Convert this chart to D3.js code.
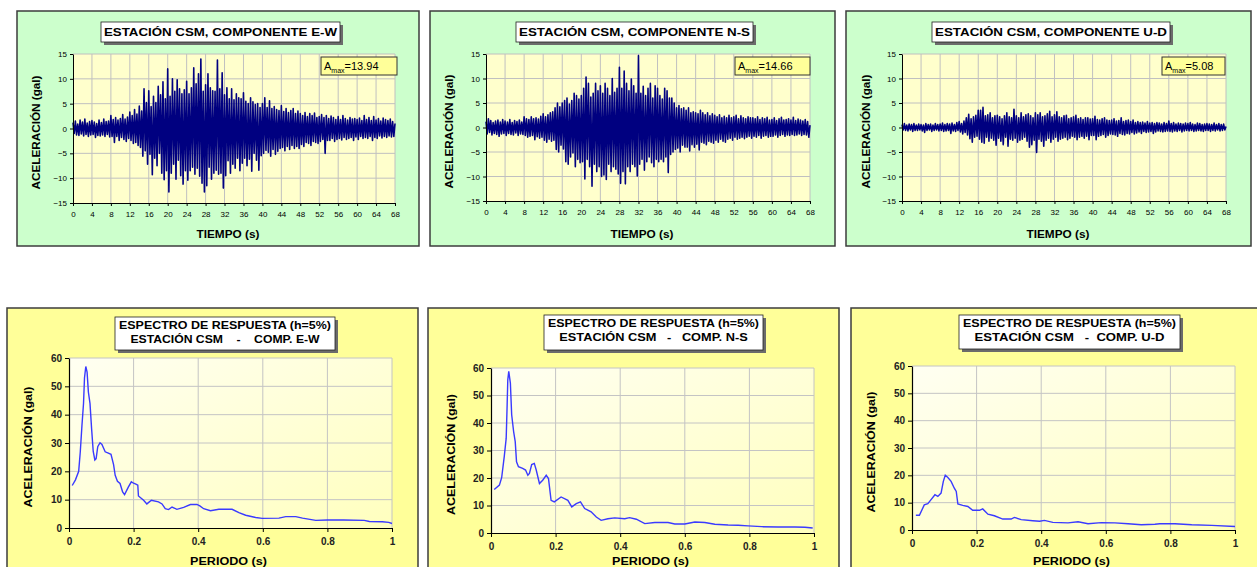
<!DOCTYPE html>
<html><head><meta charset="utf-8">
<script src="https://cdn.jsdelivr.net/npm/d3@7"></script>
<style>
html,body{margin:0;padding:0;background:#fff;}
svg{display:block;}
text{font-family:"Liberation Sans",Arial,sans-serif;}
</style></head>
<body>
<svg id="c" width="1257" height="567"></svg>
<script>
// ---------- DATA ----------
const accelStep = 0.25; // s between samples
const timeTicks = [0,4,8,12,16,20,24,28,32,36,40,44,48,52,56,60,64,68];
const accelTicks = [-15,-10,-5,0,5,10,15];
const periodTicks = [0,0.2,0.4,0.6,0.8,1];
const saTicks = [0,10,20,30,40,50,60];
const amaxValues = ["13.94","14.66","5.08"];
const accelTitles = ["ESTACIÓN CSM, COMPONENTE E-W","ESTACIÓN CSM, COMPONENTE N-S","ESTACIÓN CSM, COMPONENTE U-D"];
const specTitle1 = "ESPECTRO DE RESPUESTA (h=5%)";
const specTitles2 = ["ESTACIÓN CSM    -    COMP. E-W","ESTACIÓN CSM   -   COMP. N-S","ESTACIÓN CSM   -  COMP. U-D"];

const ewAccel = [
1.2,-1.0,1.5,-1.3,0.9,-1.4,1.7,-1.1,1.3,-1.5,1.9,-1.2,1.1,-1.6,1.4,-1.3,
1.6,-1.2,1.3,-1.8,1.0,-1.4,1.7,-1.5,1.2,-1.3,1.9,-1.6,1.4,-1.2,1.5,-1.7,
2.6,-1.6,1.8,-2.8,2.2,-1.6,1.7,-2.4,2.0,-1.8,2.8,-2.2,1.9,-2.6,2.3,-2.0,
3.3,-2.4,2.6,-3.0,3.8,-2.8,2.9,-3.4,4.5,-3.8,3.5,-5.6,8.0,-4.5,5.2,-7.2,
7.6,-5.2,4.4,-9.3,6.5,-6.0,5.2,-7.5,8.5,-5.0,6.8,-9.0,9.4,-10.3,6.0,-8.5,
12.0,-12.8,6.5,-9.0,10.0,-7.2,7.5,-10.2,9.8,-6.4,8.0,-9.5,7.0,-11.2,7.8,-8.5,
9.5,-10.4,7.0,-8.5,8.2,-7.8,12.2,-9.2,9.0,-8.0,11.0,-9.6,14.0,-11.0,7.5,-12.8,
8.8,-11.5,11.0,-7.8,8.2,-10.2,7.6,-9.0,7.5,-8.4,13.8,-9.2,8.0,-9.0,11.2,-12.0,
6.8,-9.5,8.2,-6.5,6.0,-9.0,8.0,-7.2,5.8,-8.0,7.0,-6.0,6.2,-8.5,6.0,-7.0,
7.2,-6.0,5.5,-7.5,5.0,-6.2,6.2,-8.6,5.4,-5.0,4.8,-6.4,5.0,-8.4,4.2,-5.5,
5.0,-5.0,6.2,-4.4,4.2,-4.8,5.6,-5.6,4.0,-4.2,4.4,-5.2,3.8,-4.6,3.6,-4.0,
4.6,-3.8,3.4,-4.5,4.0,-3.6,3.2,-4.2,3.6,-3.4,4.0,-4.0,3.0,-3.6,3.5,-4.0,
3.0,-3.2,2.6,-3.6,3.2,-2.8,2.4,-3.0,3.0,-3.4,2.6,-2.6,3.1,-2.8,2.2,-3.0,
2.4,-2.6,2.8,-2.2,2.2,-5.0,2.6,-2.4,2.0,-2.4,2.5,-2.0,2.2,-2.6,1.8,-2.2,
2.4,-2.0,1.8,-2.3,2.6,-1.8,2.0,-2.2,1.7,-2.0,2.2,-1.8,1.9,-2.4,2.0,-1.7,
1.8,-2.2,2.1,-1.6,1.6,-2.0,2.6,-1.8,1.8,-2.0,2.2,-1.6,1.6,-2.4,2.4,-1.8,
1.7,-2.0,2.0,-1.5,1.5,-1.9,2.1,-1.6,1.8,-1.8,1.6,-1.5,1.9,-1.7,1.4,-1.6,
1.0];

const nsAccel = [
1.2,-1.3,1.8,-1.0,1.4,-1.5,1.0,-1.2,1.3,-1.4,1.5,-1.8,1.1,-1.3,1.6,-1.2,
1.3,-1.6,1.1,-1.2,1.6,-1.4,1.0,-1.5,1.4,-1.1,1.2,-1.6,1.5,-1.3,1.1,-1.4,
2.2,-1.6,1.8,-2.0,1.6,-1.8,2.2,-1.6,1.8,-2.5,2.0,-1.9,1.7,-2.2,2.3,-2.0,
2.8,-2.6,2.2,-3.0,2.6,-2.4,3.0,-2.8,3.2,-2.6,4.0,-4.5,5.0,-5.0,4.2,-3.6,
5.0,-4.4,5.5,-7.0,6.0,-7.5,4.8,-6.0,5.5,-5.2,7.0,-8.0,6.5,-6.5,5.8,-7.2,
6.5,-7.0,8.0,-10.5,10.3,-6.5,9.0,-8.0,6.2,-12.0,7.0,-7.5,9.0,-9.0,7.5,-8.0,
8.5,-10.0,7.0,-9.7,9.0,-10.6,8.0,-7.5,6.5,-9.0,10.0,-8.0,7.2,-8.5,8.0,-9.5,
12.3,-11.4,8.0,-9.0,11.5,-11.5,9.0,-8.0,7.5,-9.0,9.9,-7.5,8.5,-8.0,7.0,-9.9,
14.66,-7.5,7.0,-6.5,8.4,-8.7,6.5,-7.0,8.0,-6.0,9.0,-7.2,6.0,-8.0,8.5,-6.5,
8.0,-7.0,6.5,-6.5,5.8,-7.0,8.0,-6.0,7.5,-9.2,6.0,-5.5,6.0,-5.0,5.0,-4.5,
4.0,-4.2,4.5,-5.0,3.8,-3.6,4.0,-4.0,3.5,-4.0,4.0,-4.8,3.0,-3.5,3.2,-4.0,
3.0,-3.4,2.8,-4.6,3.5,-3.0,3.0,-3.2,2.6,-3.5,3.0,-2.8,2.4,-3.0,2.8,-3.2,
2.5,-2.6,2.2,-3.0,2.6,-2.4,2.0,-2.8,2.3,-3.0,2.0,-2.4,2.5,-2.2,2.0,-2.6,
2.2,-2.0,2.5,-2.4,1.8,-2.2,2.4,-2.0,2.0,-2.3,1.8,-2.0,2.2,-1.8,2.0,-2.2,
2.0,-1.8,1.8,-2.0,2.2,-1.6,1.6,-2.2,2.0,-1.8,1.8,-1.6,2.1,-2.0,1.5,-1.8,
1.6,-1.8,2.0,-1.5,1.4,-2.0,1.8,-1.6,2.1,-1.4,1.5,-1.8,1.6,-1.5,1.8,-1.6,
1.5,-1.4,2.1,-1.6,1.4,-1.5,1.7,-1.3,1.5,-1.6,1.3,-1.4,1.6,-1.5,1.2,-2.0,
0.5];

const udAccel = [
0.6,-0.5,0.8,-0.6,0.5,-0.7,0.7,-0.5,0.6,-0.8,0.8,-0.6,0.5,-0.6,0.7,-0.5,
0.6,-0.7,0.5,-1.0,0.8,-0.6,0.6,-0.5,0.7,-0.8,0.5,-0.6,0.8,-0.5,0.6,-0.7,
0.7,-0.6,0.9,-0.8,0.6,-0.7,0.8,-0.6,0.7,-1.2,0.9,-0.7,0.6,-0.8,1.0,-0.6,
1.2,-0.9,0.8,-1.3,1.3,-1.0,2.0,-1.5,2.7,-2.3,1.8,-3.0,2.2,-2.0,2.5,-1.8,
3.5,-2.4,3.5,-3.0,4.1,-3.2,2.4,-2.0,2.6,-2.8,3.0,-2.2,2.0,-2.6,2.4,-3.6,
2.5,-2.2,2.2,-2.8,1.8,-3.5,2.4,-2.0,3.0,-3.8,2.2,-2.4,2.0,-2.6,3.7,-2.2,
2.4,-3.0,2.0,-2.6,3.0,-2.4,2.2,-2.0,2.6,-2.8,2.8,-4.0,2.4,-3.5,2.0,-2.6,
3.0,-5.08,2.6,-2.4,3.0,-2.8,2.2,-3.8,2.4,-2.6,2.8,-2.2,3.3,-3.0,2.2,-2.4,
2.6,-2.0,3.2,-2.8,2.2,-2.4,2.0,-2.2,2.4,-2.0,2.5,-2.5,1.8,-2.2,2.0,-1.8,
2.2,-2.0,2.5,-2.5,1.8,-2.0,2.0,-1.8,1.6,-2.2,2.0,-1.8,2.0,-2.5,1.7,-1.6,
1.8,-1.6,2.3,-2.5,1.6,-1.8,1.5,-1.6,1.8,-1.4,2.0,-2.0,1.5,-1.6,1.4,-1.3,
1.5,-1.4,1.8,-1.5,1.3,-1.8,1.4,-1.2,2.0,-1.4,1.2,-1.5,1.4,-1.2,1.5,-1.3,
1.2,-1.0,1.5,-1.3,1.0,-1.1,1.2,-0.9,1.0,-1.2,1.1,-0.8,0.9,-1.0,1.2,-0.9,
0.9,-0.8,1.0,-1.2,0.8,-0.9,1.0,-0.7,0.9,-0.8,0.7,-0.9,1.0,-0.8,0.8,-0.7,
1.3,-0.8,0.8,-0.9,1.0,-0.7,0.7,-0.8,0.9,-0.6,0.8,-0.9,0.7,-0.7,0.9,-0.6,
0.8,-0.7,1.0,-0.6,0.7,-0.8,0.6,-0.7,0.9,-0.6,0.8,-0.7,0.6,-0.8,0.7,-0.6,
0.8,-0.6,0.7,-0.8,0.6,-0.6,0.9,-0.7,0.6,-0.5,0.8,-0.7,0.6,-0.6,0.7,-0.5,
0.2];

const ewPeriod = [0.01,0.02,0.03,0.035,0.04,0.045,0.048,0.052,0.056,0.06,0.065,0.07,0.075,0.08,0.084,0.089,0.096,0.102,0.112,0.12,0.13,0.138,0.143,0.15,0.158,0.166,0.172,0.184,0.193,0.2,0.207,0.213,0.215,0.231,0.241,0.255,0.277,0.288,0.298,0.308,0.319,0.334,0.355,0.376,0.396,0.405,0.417,0.438,0.464,0.505,0.526,0.547,0.578,0.598,0.65,0.671,0.702,0.723,0.764,0.8,0.85,0.914,0.93,0.97,0.99,1.0];
const ewSa =     [15,17,20,27,36,44,53,57,55,48,44,35,27,24,24.5,28.7,30.1,29.5,26.9,26.5,26,22.4,18.6,16.5,15.7,12.7,11.8,14.5,16.3,15.8,15.5,15.1,11.3,9.8,8.5,9.8,9.2,8.5,6.8,6.5,7.4,6.6,7.3,8.3,8.3,7.8,6.8,6.1,6.6,6.6,5.4,4.5,3.7,3.4,3.5,4,4,3.5,2.7,2.8,2.8,2.7,2.3,2.2,2.0,1.6];

const nsPeriod = [0.01,0.026,0.033,0.041,0.047,0.05,0.052,0.055,0.06,0.064,0.07,0.075,0.079,0.085,0.098,0.107,0.114,0.119,0.126,0.134,0.14,0.15,0.16,0.171,0.178,0.186,0.196,0.217,0.238,0.25,0.264,0.277,0.29,0.31,0.326,0.341,0.362,0.383,0.414,0.429,0.45,0.476,0.507,0.548,0.569,0.6,0.631,0.662,0.693,0.734,0.765,0.796,0.838,0.889,0.941,0.972,0.996];
const nsSa =     [15.8,17.4,20.1,27.8,34.4,46.6,55.7,58.8,54.5,43,36.9,33.2,25.9,24.1,23.5,22.9,21,21.7,24.9,25.3,22.9,18,19.2,21,19.8,11.9,11.3,13.1,11.9,9.5,10.7,11.3,8.9,7.7,5.8,4.6,5.2,5.5,5.2,5.6,5,3.4,3.8,3.8,3.3,3.3,4,3.8,3.2,2.9,2.8,2.6,2.3,2.2,2.2,2.1,1.8];

const udPeriod = [0.012,0.023,0.038,0.049,0.059,0.071,0.08,0.09,0.097,0.103,0.111,0.121,0.131,0.137,0.142,0.157,0.173,0.188,0.209,0.219,0.235,0.255,0.281,0.307,0.317,0.338,0.374,0.395,0.41,0.436,0.483,0.514,0.545,0.586,0.628,0.669,0.71,0.752,0.767,0.814,0.866,0.928,1.0];
const udSa =     [5.4,5.4,9.2,9.6,11.1,12.9,12.3,13.5,17.8,20,19.2,17.8,15.3,14.1,9.5,9,8.6,7.2,7.2,7.7,5.8,5.2,4,4,4.6,3.8,3.4,3.2,3.5,2.8,2.6,3,2.3,2.7,2.6,2.3,1.9,2.1,2.3,2.3,1.9,1.7,1.3];

// ---------- LAYOUT ----------
const svg = d3.select("#c");
const defs = svg.append("defs");
const grad = defs.append("linearGradient").attr("id","specBg")
  .attr("x1","0").attr("y1","0").attr("x2","1").attr("y2","1");
grad.append("stop").attr("offset","0").attr("stop-color","#fffff2");
grad.append("stop").attr("offset","1").attr("stop-color","#ffffbe");

const topPanels = [
  {box:[17,11,419,246], plot:[73,54,395,203], tbox:[101,22,340,42], amax:[321,57,397,75], ylx:36, data:ewAccel},
  {box:[430,11,835,246], plot:[486,54,810,201], tbox:[516,22,753,42], amax:[735,57,810,75], ylx:449, data:nsAccel},
  {box:[846,11,1251,246], plot:[902,54,1226,201], tbox:[932,22,1170,42], amax:[1162,57,1225,75], ylx:866, data:udAccel}
];
const botPanels = [
  {box:[7,308,418,590], plot:[69,358,392,528], tbox:[115,317,335,350], ylx:28, per:ewPeriod, sa:ewSa},
  {box:[428,308,839,590], plot:[491,368,814,533], tbox:[544,315,763,350], ylx:451, per:nsPeriod, sa:nsSa},
  {box:[851,308,1270,590], plot:[912,366,1235,530], tbox:[959,315,1180,349], ylx:871, per:udPeriod, sa:udSa}
];

function titleBox(g, b){
  g.append("rect").attr("x",b[0]+3).attr("y",b[1]+3).attr("width",b[2]-b[0]).attr("height",b[3]-b[1]).attr("fill","#6b6b6b");
  g.append("rect").attr("x",b[0]).attr("y",b[1]).attr("width",b[2]-b[0]).attr("height",b[3]-b[1]).attr("fill","#fff").attr("stroke","#222").attr("stroke-width",0.8);
}

// ---------- TOP: ACCELEROGRAMS ----------
topPanels.forEach((p,i)=>{
  const g = svg.append("g");
  g.append("rect").attr("x",p.box[0]).attr("y",p.box[1]).attr("width",p.box[2]-p.box[0]).attr("height",p.box[3]-p.box[1])
    .attr("fill","#ccffcc").attr("stroke","#3c3c3c").attr("stroke-width",1.5);
  const [x0,y0,x1,y1] = p.plot;
  const x = d3.scaleLinear().domain([0,68]).range([x0,x1]);
  const y = d3.scaleLinear().domain([-15,15]).range([y1,y0]);
  g.append("rect").attr("x",x0).attr("y",y0).attr("width",x1-x0).attr("height",y1-y0).attr("fill","#ffffcc");
  g.append("g").selectAll("line").data(timeTicks.slice(1)).join("line")
    .attr("x1",d=>x(d)).attr("x2",d=>x(d)).attr("y1",y0).attr("y2",y1).attr("stroke","#c0c0c0").attr("stroke-width",1);
  g.append("g").selectAll("line").data(accelTicks.slice(1)).join("line")
    .attr("y1",d=>y(d)).attr("y2",d=>y(d)).attr("x1",x0).attr("x2",x1).attr("stroke","#c0c0c0").attr("stroke-width",1);
  const line = d3.line().x((d,k)=>x(k*accelStep)).y(d=>y(d));
  g.append("path").datum(p.data).attr("d",line).attr("fill","none").attr("stroke","#000080")
    .attr("stroke-width",1.6).attr("stroke-linejoin","round");
  const ax = g.append("g").attr("transform",`translate(0,${y1})`)
    .call(d3.axisBottom(x).tickValues(timeTicks).tickSize(3).tickSizeOuter(0).tickPadding(5));
  const ay = g.append("g").attr("transform",`translate(${x0},0)`)
    .call(d3.axisLeft(y).tickValues(accelTicks).tickSize(3).tickSizeOuter(0).tickPadding(3));
  [ax,ay].forEach(a=>{
    a.select(".domain").attr("stroke","#000");
    a.selectAll(".tick line").attr("stroke","#000");
    a.selectAll("text").attr("font-size",8).attr("font-family","Liberation Sans, Arial").attr("fill","#000");
  });
  titleBox(g,p.tbox);
  g.append("text").attr("x",(p.tbox[0]+p.tbox[2])/2).attr("y",p.tbox[1]+13.5).attr("text-anchor","middle")
    .attr("font-family","DejaVu Sans, Verdana").attr("font-weight","bold").attr("font-size",11.5)
    .attr("textLength",p.tbox[2]-p.tbox[0]-6).attr("lengthAdjust","spacingAndGlyphs")
    .text(accelTitles[i]);
  const a = p.amax;
  g.append("rect").attr("x",a[0]).attr("y",a[1]).attr("width",a[2]-a[0]).attr("height",a[3]-a[1])
    .attr("fill","#ffff99").attr("stroke","#333").attr("stroke-width",1);
  const t = g.append("text").attr("x",a[0]+3).attr("y",a[1]+13).attr("font-size",11).attr("fill","#000");
  t.append("tspan").text("A");
  t.append("tspan").attr("font-size",7).attr("dy",3).text("max");
  t.append("tspan").attr("dy",-3).text("=" + amaxValues[i]);
  g.append("text").attr("transform",`translate(${p.ylx+4},${(y0+y1)/2+4}) rotate(-90)`).attr("text-anchor","middle")
    .attr("font-weight","bold").attr("font-size",10).attr("textLength",114).attr("lengthAdjust","spacingAndGlyphs")
    .text("ACELERACIÓN (gal)");
  g.append("text").attr("x",(x0+x1)/2-6).attr("y",238).attr("text-anchor","middle")
    .attr("font-weight","bold").attr("font-size",10).attr("textLength",63).attr("lengthAdjust","spacingAndGlyphs")
    .text("TIEMPO (s)");
});

// ---------- BOTTOM: SPECTRA ----------
botPanels.forEach((p,i)=>{
  const g = svg.append("g");
  g.append("rect").attr("x",p.box[0]).attr("y",p.box[1]).attr("width",p.box[2]-p.box[0]).attr("height",p.box[3]-p.box[1])
    .attr("fill","#ffff99").attr("stroke","#3c3c3c").attr("stroke-width",1.5);
  const [x0,y0,x1,y1] = p.plot;
  const x = d3.scaleLinear().domain([0,1]).range([x0,x1]);
  const y = d3.scaleLinear().domain([0,60]).range([y1,y0]);
  g.append("rect").attr("x",x0).attr("y",y0).attr("width",x1-x0).attr("height",y1-y0).attr("fill","url(#specBg)");
  g.append("g").selectAll("line").data(periodTicks.slice(1)).join("line")
    .attr("x1",d=>x(d)).attr("x2",d=>x(d)).attr("y1",y0).attr("y2",y1).attr("stroke","#c4c4c4").attr("stroke-width",1);
  g.append("g").selectAll("line").data(saTicks.slice(1)).join("line")
    .attr("y1",d=>y(d)).attr("y2",d=>y(d)).attr("x1",x0).attr("x2",x1).attr("stroke","#c4c4c4").attr("stroke-width",1);
  const line = d3.line().x((d,k)=>x(p.per[k])).y(d=>y(d));
  g.append("path").datum(p.sa).attr("d",line).attr("fill","none").attr("stroke","#3a3aff").attr("stroke-width",1.4);
  const ax = g.append("g").attr("transform",`translate(0,${y1})`)
    .call(d3.axisBottom(x).tickValues(periodTicks).tickFormat(d=>d===0||d===1?String(d):d3.format(".1f")(d)).tickSize(4).tickSizeOuter(0).tickPadding(6));
  const ay = g.append("g").attr("transform",`translate(${x0},0)`)
    .call(d3.axisLeft(y).tickValues(saTicks).tickSize(4).tickSizeOuter(0).tickPadding(3));
  [ax,ay].forEach(a=>{
    a.select(".domain").attr("stroke","#000").attr("stroke-width",1.2);
    a.selectAll(".tick line").attr("stroke","#000");
    a.selectAll("text").attr("font-size",10).attr("font-weight","bold").attr("font-family","Liberation Sans, Arial").attr("fill","#222");
  });
  titleBox(g,p.tbox);
  const cx = (p.tbox[0]+p.tbox[2])/2;
  const tw = p.tbox[2]-p.tbox[0];
  g.append("text").attr("x",cx).attr("y",p.tbox[1]+12).attr("text-anchor","middle")
    .attr("font-weight","bold").attr("font-size",11).attr("textLength",tw-8).attr("lengthAdjust","spacingAndGlyphs")
    .text(specTitle1);
  g.append("text").attr("x",cx).attr("y",p.tbox[1]+26).attr("text-anchor","middle").attr("xml:space","preserve")
    .style("white-space","pre")
    .attr("font-weight","bold").attr("font-size",11).attr("textLength",tw*0.86).attr("lengthAdjust","spacingAndGlyphs")
    .text(specTitles2[i]);
  g.append("text").attr("transform",`translate(${p.ylx+4},${(y0+y1)/2+4}) rotate(-90)`).attr("text-anchor","middle")
    .attr("font-weight","bold").attr("font-size",11).attr("textLength",121).attr("lengthAdjust","spacingAndGlyphs")
    .text("ACELERACIÓN (gal)");
  g.append("text").attr("x",(x0+x1)/2-2).attr("y",564.5).attr("text-anchor","middle")
    .attr("font-weight","bold").attr("font-size",10).attr("textLength",77).attr("lengthAdjust","spacingAndGlyphs")
    .text("PERIODO (s)");
});
</script>
</body></html>
